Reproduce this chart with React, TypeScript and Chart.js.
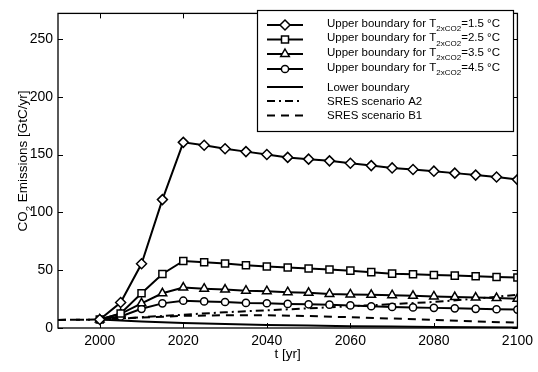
import React, { useEffect, useRef } from 'react';
import { Chart, registerables } from 'chart.js';

Chart.register(...registerables);

// ---- Data ----
const years = [2000, 2005, 2010, 2015, 2020, 2025, 2030, 2035, 2040, 2045, 2050, 2055, 2060, 2065, 2070, 2075, 2080, 2085, 2090, 2095, 2100];
const upper15 = [7.3, 22, 55.5, 111, 160.5, 158, 155, 152.5, 150, 147.5, 146, 144.5, 142.4, 140.4, 138.4, 137, 135.6, 133.9, 132.2, 130.5, 128.3];
const upper25 = [7.3, 12.6, 30, 46.7, 58, 56.8, 55.7, 54.3, 53.2, 52.3, 51.5, 50.6, 49.6, 48.3, 47, 46.4, 45.8, 45.3, 44.7, 44.1, 43.7];
const upper35 = [7.3, 12.3, 21.3, 30, 35, 34, 33.2, 32.3, 31.8, 31, 30.4, 29.5, 29, 28.7, 28.4, 27.8, 27.3, 26.8, 26.3, 25.9, 25.2];
const upper45 = [7.3, 10, 16.6, 21.3, 23.6, 23, 22.5, 21.7, 21.4, 20.8, 20.5, 20.2, 19.5, 18.8, 18.2, 17.8, 17.4, 17, 16.6, 16.2, 15.9];

const lowerYears = [2000, 2010, 2020, 2030, 2040, 2050, 2060, 2070, 2080, 2090, 2100];
const lowerBoundary = [7.3, 5.6, 4.4, 3.4, 2.7, 2.1, 1.6, 1.2, 0.9, 0.7, 0.5];

const scenarioYears = [1990, 2000, 2010, 2020, 2030, 2040, 2050, 2060, 2070, 2080, 2090, 2100];
const sresA2 = [7.0, 7.3, 9.3, 11.5, 13.6, 15.3, 17.0, 18.8, 20.6, 22.5, 25.3, 28.8];
const sresB1 = [7.0, 7.3, 9.0, 10.5, 11.0, 11.0, 10.3, 9.3, 8.2, 7.0, 5.7, 4.6];

const xTickValues = [2000, 2020, 2040, 2060, 2080, 2100];
const yTickValues = [0, 50, 100, 150, 200, 250];
const sensitivities = ['1.5', '2.5', '3.5', '4.5'];

const FONT = '"Liberation Sans", Arial, Helvetica, sans-serif';

const toXY = (xs: number[], ys: number[]) => xs.map((x, i) => ({ x, y: ys[i] }));

type MarkerKind = 'diamond' | 'square' | 'triangle' | 'circle' | null;

function drawMarker(ctx: CanvasRenderingContext2D, kind: MarkerKind, x: number, y: number) {
  if (!kind) return;
  ctx.save();
  ctx.beginPath();
  if (kind === 'diamond') {
    const r = 5;
    ctx.moveTo(x, y - r);
    ctx.lineTo(x + r, y);
    ctx.lineTo(x, y + r);
    ctx.lineTo(x - r, y);
    ctx.closePath();
  } else if (kind === 'square') {
    ctx.rect(x - 3.5, y - 3.5, 7, 7);
  } else if (kind === 'triangle') {
    ctx.moveTo(x, y - 5);
    ctx.lineTo(x + 4.3, y + 2.5);
    ctx.lineTo(x - 4.3, y + 2.5);
    ctx.closePath();
  } else {
    ctx.arc(x, y, 3.6, 0, Math.PI * 2);
  }
  ctx.fillStyle = '#fff';
  ctx.fill();
  ctx.lineWidth = 1.5;
  ctx.strokeStyle = '#000';
  ctx.stroke();
  ctx.restore();
}

const frameAndLegend = {
  id: 'frameAndLegend',
  afterDraw(chart: any) {
    const ctx: CanvasRenderingContext2D = chart.ctx;
    const { left, right, top, bottom } = chart.chartArea;
    const xs = chart.scales.x;
    const ys = chart.scales.y;
    ctx.save();
    // frame
    ctx.strokeStyle = '#000';
    ctx.lineWidth = 1.3;
    ctx.strokeRect(left, top, right - left, bottom - top);
    // inward ticks
    const tl = 5;
    ctx.lineWidth = 1;
    ctx.beginPath();
    xTickValues.forEach((v) => {
      const px = Math.round(xs.getPixelForValue(v)) + 0.5;
      ctx.moveTo(px, bottom);
      ctx.lineTo(px, bottom - tl);
      ctx.moveTo(px, top);
      ctx.lineTo(px, top + tl);
    });
    yTickValues.forEach((v) => {
      const py = Math.round(ys.getPixelForValue(v)) + 0.5;
      ctx.moveTo(left, py);
      ctx.lineTo(left + tl, py);
      ctx.moveTo(right, py);
      ctx.lineTo(right - tl, py);
    });
    ctx.stroke();

    const axisFont = '13.5px ' + FONT;
    const axisSub = '9.5px ' + FONT;

    // y axis title with subscript
    ctx.save();
    ctx.translate(22, 161);
    ctx.rotate(-Math.PI / 2);
    ctx.fillStyle = '#000';
    ctx.textBaseline = 'alphabetic';
    ctx.font = axisFont;
    const w1 = ctx.measureText('CO').width;
    const w3 = ctx.measureText(' Emissions [GtC/yr]').width;
    ctx.font = axisSub;
    const w2 = ctx.measureText('2').width;
    const total = w1 + w2 + w3;
    let cx = -total / 2;
    ctx.font = axisFont;
    ctx.fillText('CO', cx, 5);
    cx += w1;
    ctx.font = axisSub;
    ctx.fillText('2', cx, 9.5);
    cx += w2;
    ctx.font = axisFont;
    ctx.fillText(' Emissions [GtC/yr]', cx, 5);
    ctx.restore();

    // x axis title
    ctx.fillStyle = '#000';
    ctx.font = axisFont;
    ctx.textAlign = 'center';
    ctx.textBaseline = 'middle';
    ctx.fillText('t [yr]', (left + right) / 2, 354);

    // legend
    const main = '11.5px ' + FONT;
    const sub = '8px ' + FONT;
    const bx = 257, by = 10, bw = 256, bh = 121;
    ctx.fillStyle = '#fff';
    ctx.fillRect(bx, by, bw, bh);
    ctx.strokeStyle = '#000';
    ctx.lineWidth = 1.2;
    ctx.strokeRect(bx + 0.5, by + 0.5, bw, bh);

    const items: { y: number; dash: number[]; marker: MarkerKind; label: string; temp?: string }[] = [
      { y: 25, dash: [], marker: 'diamond', label: 'Upper boundary for T', temp: sensitivities[0] },
      { y: 39.5, dash: [], marker: 'square', label: 'Upper boundary for T', temp: sensitivities[1] },
      { y: 54, dash: [], marker: 'triangle', label: 'Upper boundary for T', temp: sensitivities[2] },
      { y: 69, dash: [], marker: 'circle', label: 'Upper boundary for T', temp: sensitivities[3] },
      { y: 87, dash: [], marker: null, label: 'Lower boundary' },
      { y: 101, dash: [8, 4, 2, 4], marker: null, label: 'SRES scenario A2' },
      { y: 115.5, dash: [8, 6], marker: null, label: 'SRES scenario B1' },
    ];
    const lx0 = 267, lx1 = 303, tx = 327;
    items.forEach((it) => {
      ctx.save();
      ctx.strokeStyle = '#000';
      ctx.lineWidth = 2;
      ctx.setLineDash(it.dash);
      ctx.beginPath();
      ctx.moveTo(lx0, it.y);
      ctx.lineTo(lx1, it.y);
      ctx.stroke();
      ctx.restore();
      drawMarker(ctx, it.marker, (lx0 + lx1) / 2, it.y);
      ctx.fillStyle = '#000';
      ctx.textAlign = 'left';
      ctx.textBaseline = 'alphabetic';
      ctx.font = main;
      const base = it.temp ? it.y + 1.5 : it.y + 3.5;
      ctx.fillText(it.label, tx, base);
      if (it.temp) {
        let cx2 = tx + ctx.measureText(it.label).width;
        ctx.font = sub;
        ctx.fillText('2xCO2', cx2, base + 4.5);
        cx2 += ctx.measureText('2xCO2').width;
        ctx.font = main;
        ctx.fillText('=' + it.temp + ' \u00B0C', cx2, base);
      }
    });
    ctx.restore();
  },
};

export default function App() {
  const ref = useRef<HTMLCanvasElement>(null);
  useEffect(() => {
    document.body.style.margin = '0';
    const canvas = ref.current!;
    const markerDs = (data: number[], style: string, radius: number) => ({
      data: toXY(years, data),
      borderColor: '#000',
      borderWidth: 2,
      pointStyle: style,
      pointRadius: radius,
      pointBackgroundColor: '#fff',
      pointBorderColor: '#000',
      pointBorderWidth: 1.5,
      showLine: true,
      tension: 0,
    });
    const chart = new Chart(canvas, {
      type: 'scatter',
      data: {
        datasets: [
          markerDs(upper15, 'rectRot', 5),
          markerDs(upper25, 'rect', 5),
          markerDs(upper35, 'triangle', 5),
          markerDs(upper45, 'circle', 3.6),
          {
            data: toXY(lowerYears, lowerBoundary),
            borderColor: '#000',
            borderWidth: 2,
            pointRadius: 0,
            showLine: true,
          },
          {
            data: toXY(scenarioYears, sresA2),
            borderColor: '#000',
            borderWidth: 2,
            borderDash: [8, 4, 2, 4],
            pointRadius: 0,
            showLine: true,
          },
          {
            data: toXY(scenarioYears, sresB1),
            borderColor: '#000',
            borderWidth: 2,
            borderDash: [8, 6],
            pointRadius: 0,
            showLine: true,
          },
        ] as any,
      },
      options: {
        animation: false,
        responsive: false,
        devicePixelRatio: 1,
        layout: { padding: { top: 5, right: 20, left: 0, bottom: 0 } },
        plugins: { legend: { display: false }, tooltip: { enabled: false } },
        scales: {
          x: {
            type: 'linear',
            min: 1990,
            max: 2100,
            grid: { display: false, drawTicks: false },
            border: { display: false },
            ticks: {
              font: { family: FONT, size: 14 },
              color: '#000',
              padding: 5,
              maxRotation: 0,
              callback: (v: any) => String(v),
            },
            afterBuildTicks: (s: any) => {
              s.ticks = xTickValues.map((v) => ({ value: v }));
            },
            afterFit: (s: any) => {
              s.height = 44;
            },
          },
          y: {
            type: 'linear',
            min: 0,
            max: 272,
            grid: { display: false, drawTicks: false },
            border: { display: false },
            ticks: {
              font: { family: FONT, size: 14 },
              color: '#000',
              padding: 5,
              callback: (v: any) => String(v),
            },
            afterBuildTicks: (s: any) => {
              s.ticks = yTickValues.map((v) => ({ value: v }));
            },
            afterFit: (s: any) => {
              s.width = 58;
            },
          },
        },
      } as any,
      plugins: [frameAndLegend],
    });
    return () => chart.destroy();
  }, []);
  return (
    <div style={{ position: 'absolute', left: 0, top: 0, width: 538, height: 372, background: '#fff' }}>
      <canvas ref={ref} width={538} height={372} />
    </div>
  );
}
